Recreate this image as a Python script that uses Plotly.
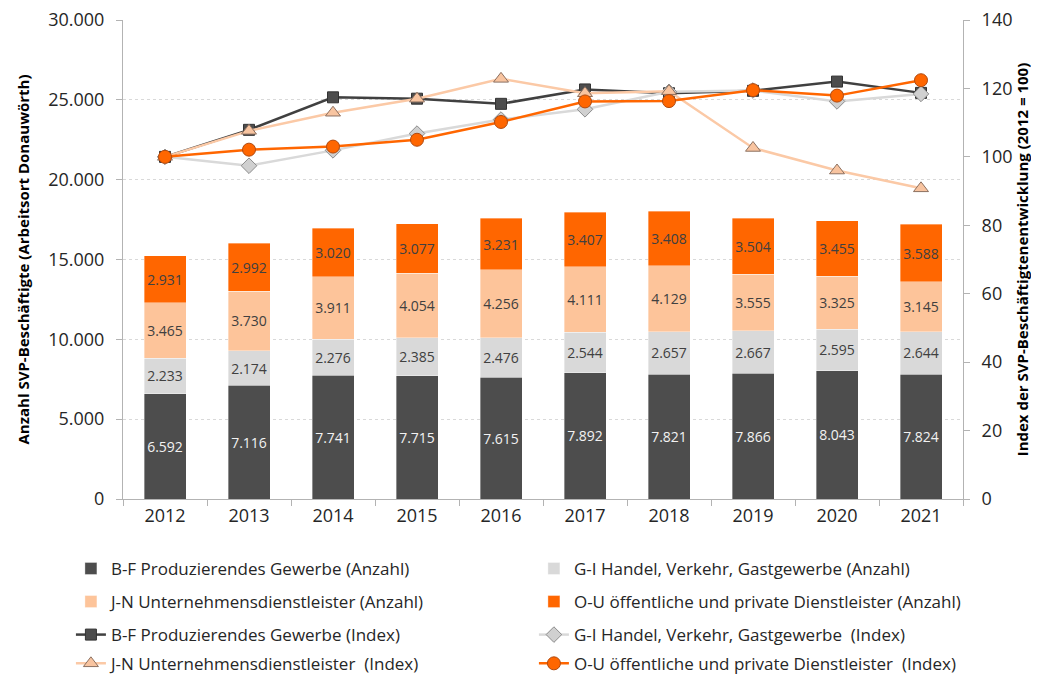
import plotly.graph_objects as go

years = ["2012", "2013", "2014", "2015", "2016", "2017", "2018", "2019", "2020", "2021"]

bf_count = [6592, 7116, 7741, 7715, 7615, 7892, 7821, 7866, 8043, 7824]
gi_count = [2233, 2174, 2276, 2385, 2476, 2544, 2657, 2667, 2595, 2644]
jn_count = [3465, 3730, 3911, 4054, 4256, 4111, 4129, 3555, 3325, 3145]
ou_count = [2931, 2992, 3020, 3077, 3231, 3407, 3408, 3504, 3455, 3588]

bf_index = [100, 107.9, 117.4, 117.0, 115.5, 119.7, 118.6, 119.3, 122.0, 118.7]
gi_index = [100, 97.4, 101.9, 106.8, 110.9, 113.9, 119.0, 119.4, 116.2, 118.4]
jn_index = [100, 107.6, 112.9, 117.0, 122.8, 118.6, 119.2, 102.6, 96.0, 90.8]
ou_index = [100, 102.1, 103.0, 105.0, 110.2, 116.2, 116.3, 119.5, 117.9, 122.4]

names_count = [
    "B-F Produzierendes Gewerbe (Anzahl)",
    "G-I Handel, Verkehr, Gastgewerbe (Anzahl)",
    "J-N Unternehmensdienstleister (Anzahl)",
    "O-U öffentliche und private Dienstleister (Anzahl)",
]
names_index = [
    "B-F Produzierendes Gewerbe (Index)",
    "G-I Handel, Verkehr, Gastgewerbe  (Index)",
    "J-N Unternehmensdienstleister  (Index)",
    "O-U öffentliche und private Dienstleister  (Index)",
]

FONT = "Open Sans"
TXT = "#404040"
C_BF = "#4d4d4d"
C_GI = "#d9d9d9"
C_JN = "#fdc49a"
C_OU = "#ff6600"

fig = go.Figure()

bar_specs = [
    (bf_count, names_count[0], C_BF, "#f2f2f2", "legend"),
    (gi_count, names_count[1], C_GI, TXT, "legend"),
    (jn_count, names_count[2], C_JN, TXT, "legend2"),
    (ou_count, names_count[3], C_OU, TXT, "legend2"),
]
for vals, name, col, tcol, lg in bar_specs:
    fig.add_trace(go.Bar(
        x=years, y=vals, name=name, legend=lg,
        marker=dict(color=col, line=dict(color="rgba(255,255,255,0.6)", width=0.6)),
        texttemplate="%{y:,d}", textposition="inside", insidetextanchor="middle",
        textangle=0, textfont=dict(family=FONT, size=14, color=tcol),
        width=0.5,
    ))

line_specs = [
    (bf_index, names_index[0], "#404040", dict(symbol="square", size=11, color="#4d4d4d", line=dict(color="#333333", width=1)), 2.5, "legend3"),
    (gi_index, names_index[1], "#d9d9d9", dict(symbol="diamond", size=12, color="#d0d0d0", line=dict(color="#8c8c8c", width=1)), 2.5, "legend3"),
    (jn_index, names_index[2], "#fbc9a6", dict(symbol="triangle-up", size=13, color="#f8c4a0", line=dict(color="#8c7060", width=1)), 2.5, "legend4"),
    (ou_index, names_index[3], "#ff6600", dict(symbol="circle", size=13, color="#ff6600", line=dict(color="#b04a10", width=1)), 2.5, "legend4"),
]
for vals, name, lcol, mk, lw, lg in line_specs:
    fig.add_trace(go.Scatter(
        x=years, y=vals, name=name, yaxis="y2", legend=lg,
        mode="lines+markers", line=dict(color=lcol, width=lw), marker=mk,
    ))

axis_col = "#b3b3b3"
legend_common = dict(
    orientation="h", xanchor="left", yanchor="middle", x=-0.062,
    font=dict(family=FONT, size=17, color="#262626"),
    entrywidth=418, entrywidthmode="pixels", traceorder="normal",
    bgcolor="rgba(0,0,0,0)",
)

# page body has an 8px default margin: figure is 1031x667 so that it fits the 1039x675 window
fig.update_layout(
    width=1031, height=667,
    margin=dict(l=115, r=76, t=12, b=176, autoexpand=False),
    paper_bgcolor="white", plot_bgcolor="white",
    separators=",.",
    barmode="stack",
    font=dict(family=FONT, size=17, color=TXT),
    xaxis=dict(
        type="category", range=[-0.5, 9.5], automargin=False,
        showline=True, linecolor=axis_col, linewidth=1,
        ticks="outside", tickson="boundaries", ticklen=6, tickcolor=axis_col,
        tickfont=dict(family=FONT, size=18, color="#262626"),
        showgrid=False,
    ),
    yaxis=dict(
        range=[0, 30000], tickvals=[0, 5000, 10000, 15000, 20000, 25000, 30000],
        tickformat=",d", automargin=False, ticklabeloverflow="allow",
        showline=True, linecolor=axis_col, linewidth=1,
        ticks="outside", ticklen=6, tickcolor=axis_col, ticklabelstandoff=8,
        showgrid=True, gridcolor="#d9d9d9", griddash="dot", gridwidth=1,
        zeroline=False,
        tickfont=dict(family=FONT, size=18, color="#262626"),
        title=dict(text="<b>Anzahl SVP-Beschäftigte (Arbeitsort Donauwörth)</b>",
                   font=dict(family=FONT, size=15, color="#000000"), standoff=14),
    ),
    yaxis2=dict(
        overlaying="y", side="right", automargin=False, ticklabeloverflow="allow",
        range=[0, 140], tickvals=[0, 20, 40, 60, 80, 100, 120, 140],
        showline=True, linecolor=axis_col, linewidth=1,
        ticks="outside", ticklen=6, tickcolor=axis_col, ticklabelstandoff=8,
        showgrid=False, zeroline=False,
        tickfont=dict(family=FONT, size=18, color="#262626"),
        title=dict(text="<b>Index der SVP-Beschäftigtenentwicklung (2012 = 100)</b>",
                   font=dict(family=FONT, size=15, color="#000000"), standoff=6),
    ),
    legend=dict(legend_common, y=-0.146),
    legend2=dict(legend_common, y=-0.215),
    legend3=dict(legend_common, y=-0.284),
    legend4=dict(legend_common, y=-0.344),
    showlegend=True,
)

fig.write_html("out.html")
